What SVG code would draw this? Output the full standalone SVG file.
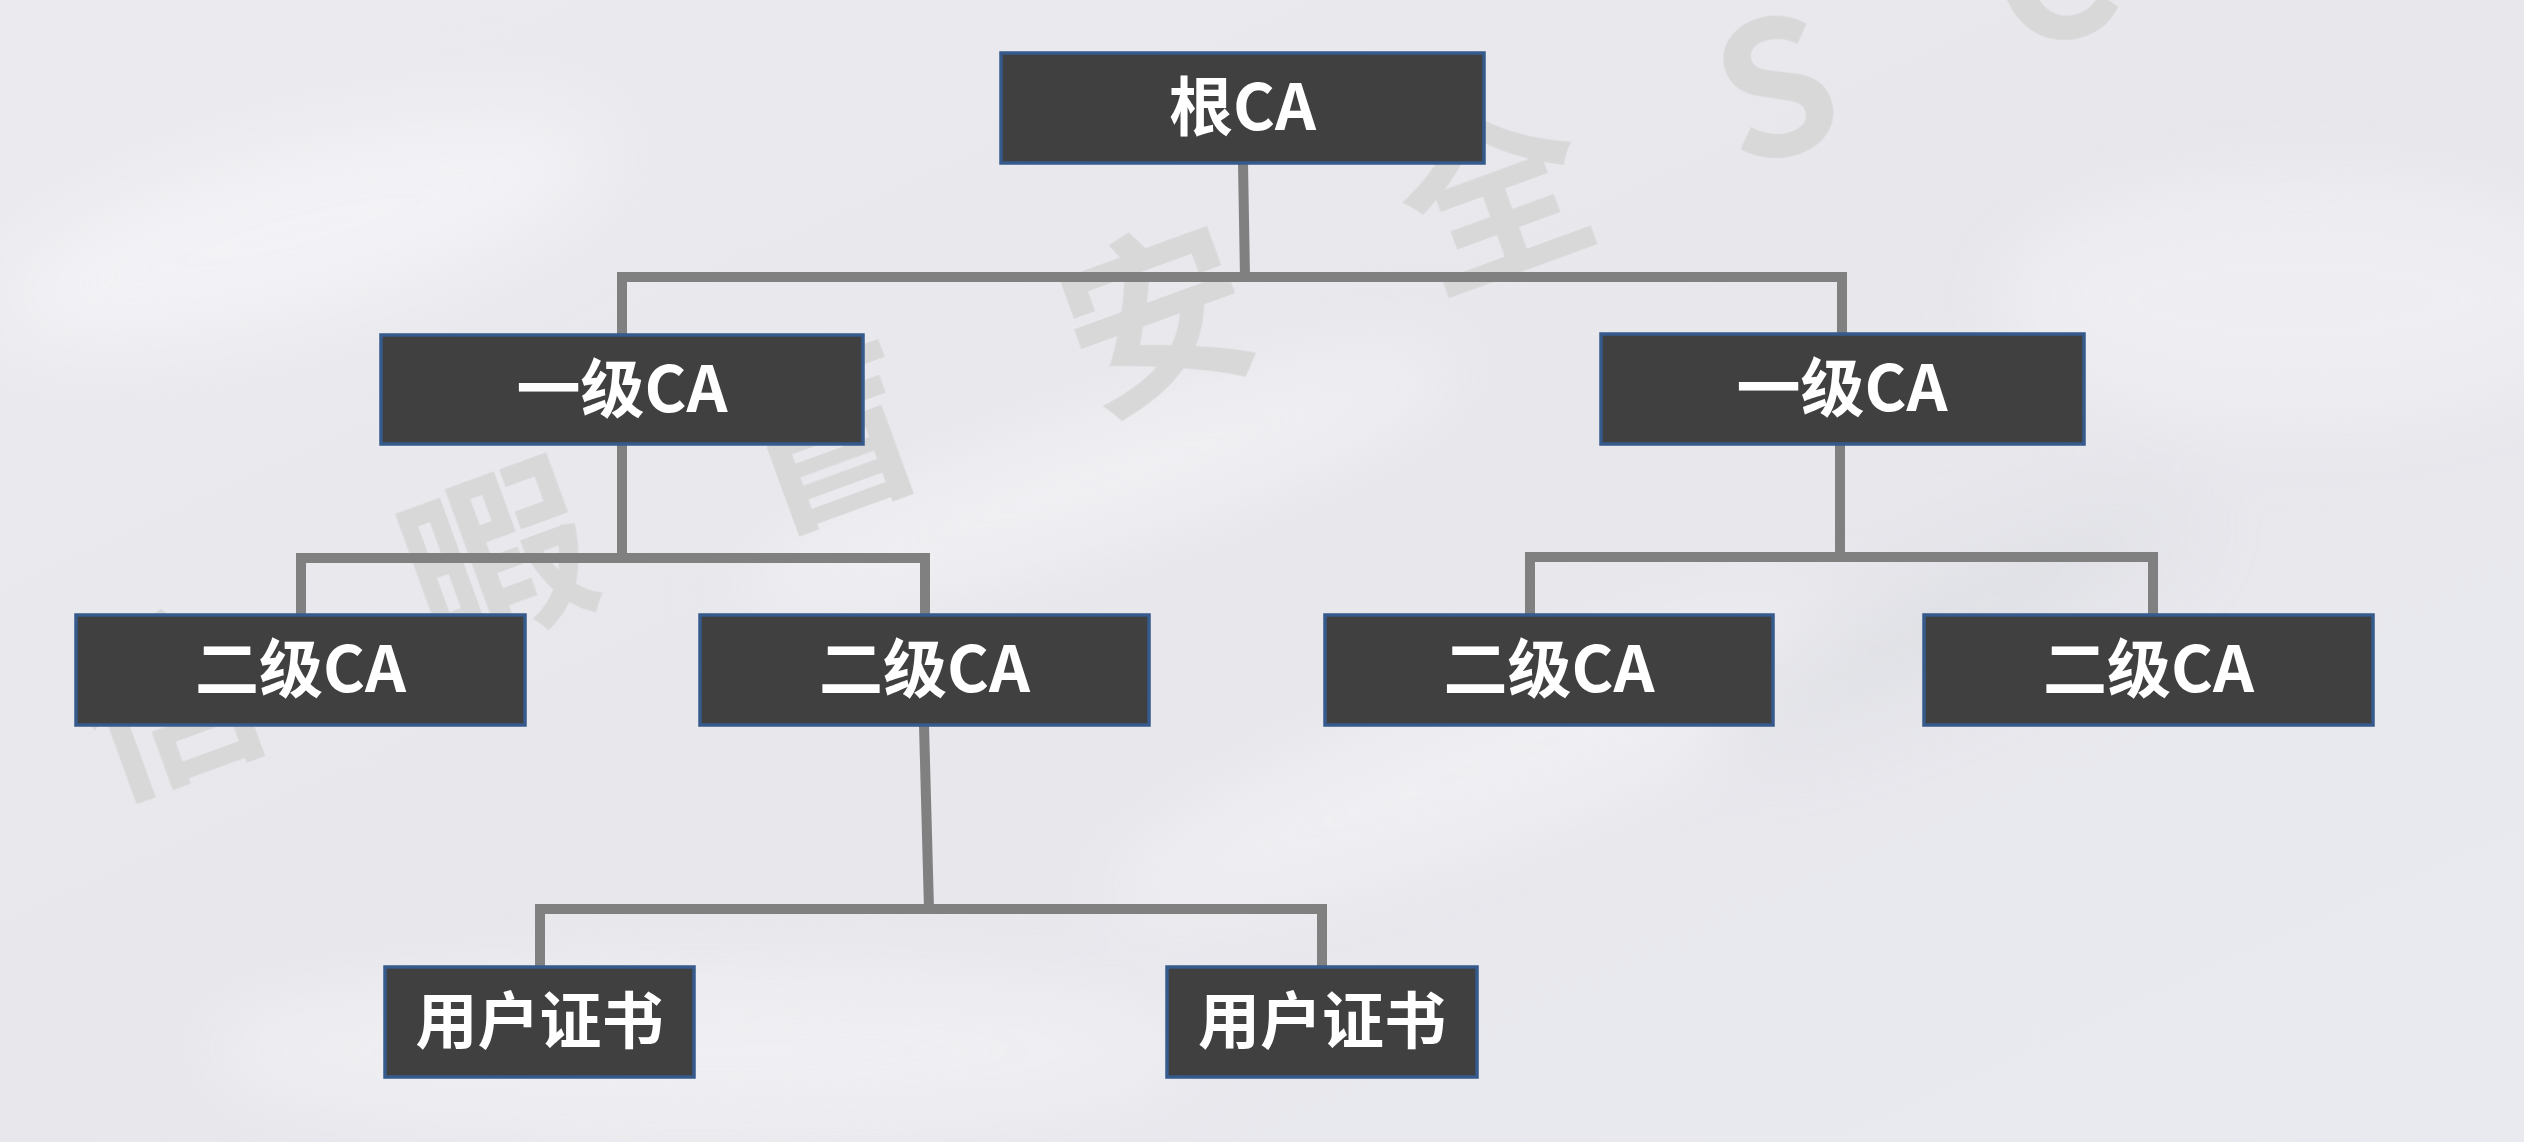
<svg xmlns="http://www.w3.org/2000/svg" width="2524" height="1142" viewBox="0 0 2524 1142">
  <defs>
    <linearGradient id="bg" x1="0" y1="0" x2="1" y2="1">
      <stop offset="0" stop-color="#ebebef"/>
      <stop offset="0.5" stop-color="#e7e7ec"/>
      <stop offset="1" stop-color="#e9eaef"/>
    </linearGradient>
    <filter id="blur" x="-50%" y="-50%" width="200%" height="200%">
      <feGaussianBlur stdDeviation="40"/>
    </filter>
    <style>
      .box { fill: #404040; stroke: #365a8c; stroke-width: 3.5; }
      .lbl { fill: #ffffff; font-family: "Noto Sans CJK SC", "Noto Sans", sans-serif; font-weight: bold; font-size: 64px; text-anchor: middle; }
      .usr { font-size: 62px; }
      .conn { fill: none; stroke: #808080; stroke-width: 10; stroke-linejoin: miter; stroke-linecap: butt; }
      .wm { fill: #d8d8d9; font-family: "Noto Sans CJK SC", "Noto Sans", sans-serif; font-weight: bold; font-size: 185px; text-anchor: middle; }
    </style>
  </defs>

  <!-- background -->
  <rect x="0" y="0" width="2524" height="1142" fill="url(#bg)"/>
  <g filter="url(#blur)" opacity="0.7">
    <ellipse cx="300" cy="230" rx="320" ry="90" fill="#f6f6f9" transform="rotate(-15 300 230)"/>
    <ellipse cx="1100" cy="480" rx="380" ry="60" fill="#f4f4f7" transform="rotate(-18 1100 480)"/>
    <ellipse cx="1500" cy="760" rx="420" ry="70" fill="#f3f3f6" transform="rotate(-20 1500 760)"/>
    <ellipse cx="2300" cy="300" rx="300" ry="120" fill="#f1f1f5"/>
    <ellipse cx="700" cy="1050" rx="500" ry="80" fill="#f3f3f6"/>
    <ellipse cx="1950" cy="620" rx="260" ry="50" fill="#dcdde2" transform="rotate(-25 1950 620)"/>
  </g>

  <!-- watermark -->
  <g id="watermark">
    <text class="wm" x="169" y="770" transform="rotate(-20 169 708)">信</text>
    <text class="wm" x="499" y="626" transform="rotate(-20 499 564)">暇</text>
    <text class="wm" x="829" y="505" transform="rotate(-20 829 443)">盲</text>
    <text class="wm" x="1159" y="386" transform="rotate(-20 1159 324)">安</text>
    <text class="wm" x="1497" y="263" transform="rotate(-20 1497 201)">全</text>
    <text class="wm" x="1776" y="155" transform="rotate(-15 1776 88)">S</text>
    <text class="wm" x="2052" y="40" transform="rotate(-15 2052 -25)">C</text>
  </g>

  <!-- connectors -->
  <g id="connectors">
    <path class="conn" d="M1243,163 L1245,277"/>
    <path class="conn" d="M622,335 V277 H1842 V334"/>
    <path class="conn" d="M622,444 V558"/>
    <path class="conn" d="M301,615 V558 H925 V615"/>
    <path class="conn" d="M1840,444 V557"/>
    <path class="conn" d="M1530,615 V557 H2153 V615"/>
    <path class="conn" d="M924,725 L929,909"/>
    <path class="conn" d="M540,967 V909 H1322 V967"/>
  </g>

  <!-- nodes -->
  <g id="root">
    <rect class="box" x="1001" y="53" width="483" height="110"/>
    <text class="lbl" x="1242.5" y="130">根CA</text>
  </g>
  <g id="l1-left">
    <rect class="box" x="381" y="335" width="482" height="109"/>
    <text class="lbl" x="622" y="412">一级CA</text>
  </g>
  <g id="l1-right">
    <rect class="box" x="1601" y="334" width="483" height="110"/>
    <text class="lbl" x="1842" y="411">一级CA</text>
  </g>
  <g id="l2-a">
    <rect class="box" x="76" y="615" width="449" height="110"/>
    <text class="lbl" x="300.5" y="692">二级CA</text>
  </g>
  <g id="l2-b">
    <rect class="box" x="700" y="615" width="449" height="110"/>
    <text class="lbl" x="924.5" y="692">二级CA</text>
  </g>
  <g id="l2-c">
    <rect class="box" x="1325" y="615" width="448" height="110"/>
    <text class="lbl" x="1549" y="692">二级CA</text>
  </g>
  <g id="l2-d">
    <rect class="box" x="1924" y="615" width="449" height="110"/>
    <text class="lbl" x="2148.5" y="692">二级CA</text>
  </g>
  <g id="user-1">
    <rect class="box" x="385" y="967" width="309" height="110"/>
    <text class="lbl usr" x="539.5" y="1044">用户证书</text>
  </g>
  <g id="user-2">
    <rect class="box" x="1167" y="967" width="310" height="110"/>
    <text class="lbl usr" x="1322" y="1044">用户证书</text>
  </g>
</svg>
